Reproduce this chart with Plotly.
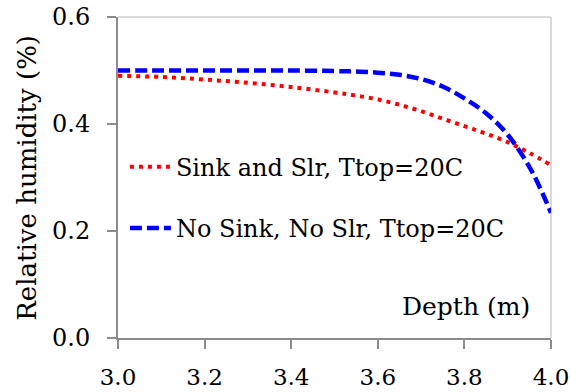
import plotly.graph_objects as go

# Depth (m) sample points for each profile
depth_sink = [3.0, 3.1, 3.2, 3.3, 3.4, 3.5, 3.55, 3.6, 3.65, 3.7, 3.75, 3.8, 3.85, 3.9, 3.95, 4.0]
rh_sink = [0.490, 0.488, 0.483, 0.477, 0.469, 0.459, 0.453, 0.446, 0.436, 0.424, 0.410, 0.396, 0.382, 0.366, 0.346, 0.323]

depth_nosink = [3.0, 3.1, 3.2, 3.3, 3.4, 3.5, 3.55, 3.6, 3.65, 3.7, 3.75, 3.8, 3.85, 3.9, 3.95, 3.98, 4.0]
rh_nosink = [0.500, 0.500, 0.500, 0.500, 0.500, 0.499, 0.498, 0.496, 0.492, 0.484, 0.470, 0.448, 0.420, 0.380, 0.320, 0.271, 0.234]

x_ticks = [3.0, 3.2, 3.4, 3.6, 3.8, 4.0]
y_ticks = [0.0, 0.2, 0.4, 0.6]

label_sink = "Sink and Slr, Ttop=20C"
label_nosink = "No Sink, No Slr, Ttop=20C"

FONT = "DejaVu Serif"
AXIS_GREY = "#8c8c8c"

fig = go.Figure()
fig.add_trace(go.Scatter(
    x=depth_sink, y=rh_sink, mode="lines", name=label_sink,
    legendgroup="a", line=dict(color="#ff0000", width=4, dash="4px,5px", shape="spline"),
))
fig.add_trace(go.Scatter(
    x=depth_nosink, y=rh_nosink, mode="lines", name=label_nosink,
    legendgroup="b", line=dict(color="#0000ff", width=4.5, dash="12px,5px", shape="spline"),
))

# light frame on top and right of the plotting area
fig.add_shape(type="line", xref="paper", yref="paper", x0=0, x1=1, y0=1, y1=1,
              line=dict(color="#d9d9d9", width=2), layer="below")
fig.add_shape(type="line", xref="paper", yref="paper", x0=1, x1=1, y0=0, y1=1,
              line=dict(color="#d9d9d9", width=2), layer="below")

fig.add_annotation(text="Depth (m)", xref="paper", yref="paper", x=0.956, y=0.097,
                   xanchor="right", yanchor="middle", showarrow=False,
                   font=dict(family=FONT, size=25, color="black"))
fig.add_annotation(text="Relative humidity (%)", xref="paper", yref="paper", x=-0.212, y=0.5,
                   xanchor="center", yanchor="middle", textangle=-90, showarrow=False,
                   font=dict(family=FONT, size=26, color="black"))

fig.update_xaxes(
    range=[3.0, 4.0], tickvals=x_ticks, tickformat=".1f", automargin=False,
    showgrid=False, zeroline=False, showline=True, linecolor=AXIS_GREY, linewidth=2,
    ticks="outside", ticklen=9, tickwidth=2, tickcolor=AXIS_GREY,
    tickfont=dict(family=FONT, size=23, color="black"), ticklabelstandoff=8,
    ticklabeloverflow="allow",
)
fig.update_yaxes(
    range=[0.0, 0.6], tickvals=y_ticks, tickformat=".1f", automargin=False,
    showgrid=False, zeroline=False, showline=True, linecolor=AXIS_GREY, linewidth=2,
    ticks="outside", ticklen=9, tickwidth=2, tickcolor=AXIS_GREY,
    tickfont=dict(family=FONT, size=24, color="black"), ticklabelstandoff=12,
    ticklabeloverflow="allow",
)

fig.update_layout(
    width=570, height=392,
    margin=dict(l=118, r=19, t=17, b=54, autoexpand=False),
    paper_bgcolor="white", plot_bgcolor="white",
    showlegend=True,
    legend=dict(
        x=0.016, y=0.602, xanchor="left", yanchor="top",
        bgcolor="rgba(0,0,0,0)", borderwidth=0,
        font=dict(family=FONT, size=24, color="black"),
        traceorder="grouped", tracegroupgap=27, itemwidth=41,
    ),
)

fig.write_html("out.html")
